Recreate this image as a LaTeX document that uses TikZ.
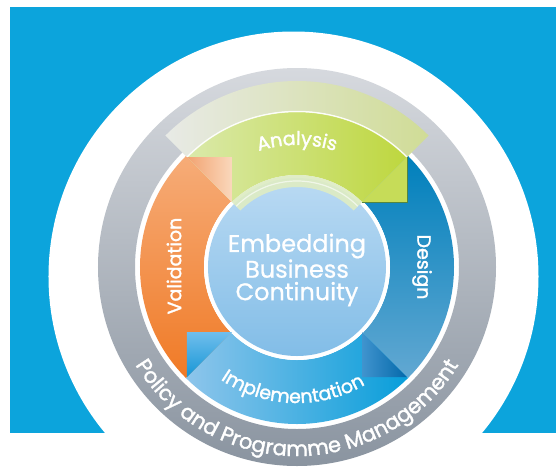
\documentclass[tikz,border=0pt]{standalone}
\usepackage{fontspec}
\setmainfont{Poppins}
\newfontfamily\semipoppins[FakeBold=1.6]{Poppins}
\newfontfamily\midpoppins[FakeBold=0.8]{Poppins}
\usetikzlibrary{decorations.text}

\definecolor{skyblue}{RGB}{12,164,220}
\definecolor{graytop}{RGB}{214,217,222}
\definecolor{graybot}{RGB}{138,148,160}
\definecolor{valtop}{RGB}{246,172,120}
\definecolor{valbot}{RGB}{240,122,38}
\definecolor{destop}{RGB}{0,128,188}
\definecolor{desbot}{RGB}{98,168,210}
\definecolor{impleft}{RGB}{142,197,235}
\definecolor{impright}{RGB}{8,158,218}
\definecolor{anapaleL}{RGB}{232,234,230}
\definecolor{anapaleR}{RGB}{208,220,150}
\definecolor{analeft}{RGB}{218,233,170}
\definecolor{anaright}{RGB}{190,215,62}
\definecolor{anainner}{RGB}{222,236,196}
\definecolor{hubtop}{RGB}{186,218,243}
\definecolor{hubbot}{RGB}{130,189,231}
\definecolor{destipL}{RGB}{64,148,206}
\definecolor{destipR}{RGB}{4,104,170}
\definecolor{imptipT}{RGB}{112,190,236}
\definecolor{imptipB}{RGB}{22,150,214}
\definecolor{valtipL}{RGB}{242,162,112}
\definecolor{valtipR}{RGB}{250,216,188}
\definecolor{anatip}{RGB}{198,220,88}
\definecolor{anatipedge}{RGB}{84,134,64}

\newcommand{\hubfont}{\midpoppins\fontsize{24}{22.5}\selectfont}
\newcommand{\phasefont}{\semipoppins\fontsize{19}{19}\selectfont}
\newcommand{\mgmtfont}{\semipoppins\fontsize{21}{21}\selectfont}

% annular sector: style, start, end, outer r, inner r
\newcommand{\ringpart}[5]{%
  \path[#1] (#2:#4) arc[start angle=#2, end angle=#3, radius=#4]
    -- (#3:#5) arc[start angle=#3, end angle=#2, radius=#5] -- cycle;}

\begin{document}
\begin{tikzpicture}[
  x=1pt, y=1pt,
  phase/.style={font=\phasefont, text=white, inner sep=0pt},
  hub/.style={font=\hubfont, text=white, align=center, inner sep=0pt},
  arclabel/.style={postaction={decorate},
    decoration={text along path, text align=center,
                text color=white, text={#1}}}
]
  \useasboundingbox (-297,-200) rectangle (259,267);

  % backdrop
  \fill[skyblue] (-287,-166) rectangle (259,260);
  \fill[white] (-3.5,-9.5) circle[radius=245];

  % policy ring
  \shade[top color=graytop, bottom color=graybot, even odd rule]
    (0,0) circle[radius=199] (0,0) circle[radius=162];

  % phases
  \ringpart{top color=valtop, bottom color=valbot}{135}{225}{157}{93}
  \ringpart{top color=destop, bottom color=desbot}{-45}{45}{157}{93}
  \ringpart{left color=impleft, right color=impright}{225}{315}{157}{93}

  % hub
  \fill[white] (0,0) circle[radius=93];
  \shade[top color=hubtop, bottom color=hubbot] (0,0) circle[radius=89];

  % arrow tips
  \shade[left color=destipL, right color=destipR]
    (110,-110) -- (65,-65) -- (65,-110) -- cycle;
  \shade[top color=imptipT, bottom color=imptipB]
    (-110,-110) -- (-65,-65) -- (-110,-65) -- cycle;

  % analysis band
  \ringpart{left color=anapaleL, right color=anapaleR}{45}{135}{186}{156}
  \ringpart{left color=analeft, right color=anaright}{45}{135}{155}{92}
  \ringpart{fill=anainner, fill opacity=0.92}{45}{135}{92}{80}
  \draw[white, opacity=0.7, line width=1.5]
    (45:155.5) arc[start angle=45, end angle=135, radius=155.5];
  \draw[white, opacity=0.6, line width=1.2]
    (45:86) arc[start angle=45, end angle=135, radius=86];

  \shade[left color=valtipL, right color=valtipR]
    (-110,110) -- (-65,65) -- (-65,110) -- cycle;
  \fill[anatip] (110,110) -- (65,65) -- (110,65) -- cycle;
  \draw[anatipedge, line width=0.8] (110,110) -- (110,65) -- (65,65);

  % labels
  \node[hub] (hubtext) at (0,-3) {Embedding\\Business\\Continuity};
  \node[phase, rotate=90] (validation) at (-123,1) {Validation};
  \node[phase, rotate=-90] (design) at (125,0) {Design};
  \path[arclabel={|\phasefont|Analysis}]
    (150:122) arc[start angle=150, end angle=30, radius=122];
  \path[arclabel={|\phasefont|Implementation}]
    (208:136) arc[start angle=208, end angle=328, radius=136];
  \path[arclabel={|\mgmtfont|Policy and Programme Management}]
    (190:189) arc[start angle=190, end angle=350, radius=189];
\end{tikzpicture}
\end{document}
